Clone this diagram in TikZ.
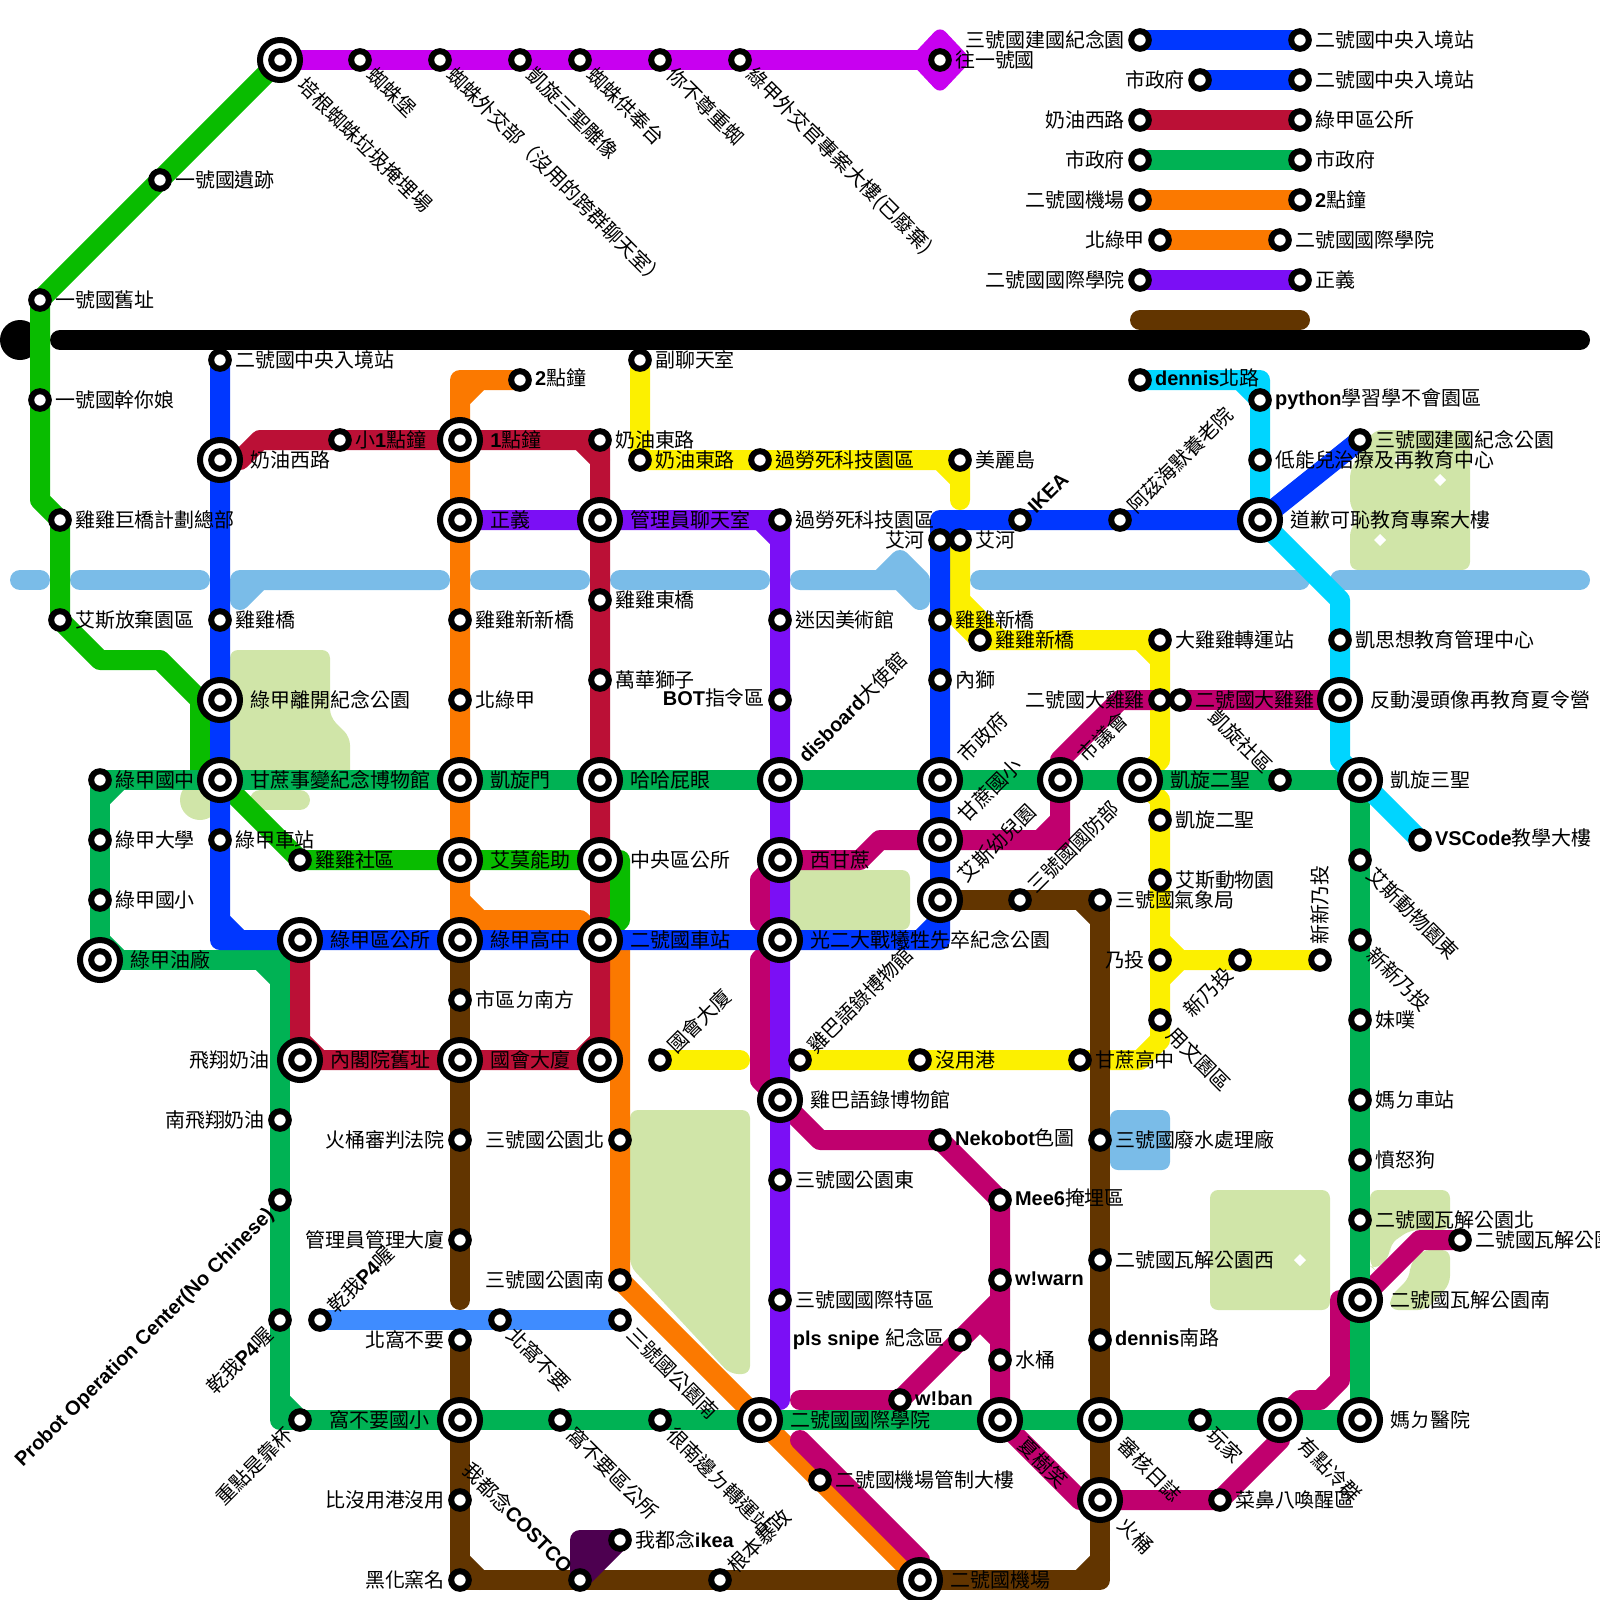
\documentclass[tikz,border=0pt]{standalone}
\usepackage{fontspec}
\setmainfont{Noto Sans CJK TC}
\newfontfamily\enfont{Liberation Sans}
\newcommand{\en}[1]{{\enfont\bfseries #1}}
\definecolor{LineViolet}{RGB}{200, 0, 240}
\definecolor{LineGreen}{RGB}{9, 188, 0}
\definecolor{LineEmerald}{RGB}{0, 178, 84}
\definecolor{LineBlue}{RGB}{0, 55, 255}
\definecolor{LineSky}{RGB}{63, 140, 255}
\definecolor{LineCyan}{RGB}{0, 213, 255}
\definecolor{LineRed}{RGB}{187, 16, 54}
\definecolor{LineOrange}{RGB}{251, 121, 0}
\definecolor{LineYellow}{RGB}{252, 240, 0}
\definecolor{LinePurple}{RGB}{123, 15, 245}
\definecolor{LineMagenta}{RGB}{192, 0, 110}
\definecolor{LineBrown}{RGB}{98, 53, 0}
\definecolor{LinePlum}{RGB}{77, 0, 80}
\definecolor{WaterBlue}{RGB}{122, 188, 232}
\definecolor{ParkGreen}{RGB}{208, 229, 168}
\usetikzlibrary{calc,positioning}
\pgfdeclarelayer{parks}
\pgfdeclarelayer{lines}
\pgfsetlayers{parks,lines,main}

\begin{document}
\begin{tikzpicture}[
    x=0.5cm, y=-0.5cm,
    stx/.style={font=\fontsize{14.2}{16}\selectfont, inner sep=0pt, text height=0.44cm, text depth=0.06cm},
    stn/.style={circle, draw=black, fill=white, line width=0.15cm, minimum size=0.44cm, inner sep=0pt, outer sep=0.15cm},
    hub/.style={circle, draw=black, fill=white, line width=0.15cm, minimum size=1cm, inner sep=0pt, outer sep=0.255cm,
        path picture={\draw[black, line width=0.15cm, fill=white] (path picture bounding box.center) circle (0.22cm);}},
    tr/.style={label={[stx]right:#1}},
    tre/.style={label={[stx, yshift=0.05cm]right:#1}},
    tl/.style={label={[stx]left:#1}},
    tle/.style={label={[stx, yshift=0.05cm]left:#1}},
    tdr/.style={label={[stx, rotate=-45, anchor=west]-45:#1}},
    tur/.style={label={[stx, rotate=45, anchor=west]45:#1}},
    tdl/.style={label={[stx, rotate=45, anchor=east]-135:#1}},
    tul/.style={label={[stx, rotate=-45, anchor=east]135:#1}},
    tup/.style={label={[stx, rotate=90, anchor=west]90:#1}},
    metro/.style={line width=0.5cm, line cap=round, line join=round},
    park/.style={fill=ParkGreen, rounded corners=0.2cm},
    wat/.style={metro, draw=WaterBlue},
    vio/.style={metro, draw=LineViolet},
    grn/.style={metro, draw=LineGreen},
    eme/.style={metro, draw=LineEmerald},
    blu/.style={metro, draw=LineBlue},
    sky/.style={metro, draw=LineSky},
    cya/.style={metro, draw=LineCyan},
    red/.style={metro, draw=LineRed},
    ora/.style={metro, draw=LineOrange},
    yel/.style={metro, draw=LineYellow},
    pur/.style={metro, draw=LinePurple},
    mag/.style={metro, draw=LineMagenta},
    bro/.style={metro, draw=LineBrown},
    plu/.style={metro, draw=LinePlum, fill=LinePlum}
]
    \useasboundingbox (0,0) rectangle (80,80);

    % violet
    \node[hub, tdr=培根蜘蛛垃圾掩埋場] (vi0) at (14,3) {};
    \node[stn, tdr=蜘蛛堡] (vi1) at (18,3) {};
    \node[stn, tdr=蜘蛛外交部（沒用的跨群聊天室）] (vi2) at (22,3) {};
    \node[stn, tdr=凱旋三聖雕像] (vi3) at (26,3) {};
    \node[stn, tdr=蜘蛛供奉台] (vi4) at (29,3) {};
    \node[stn, tdr=你不尊重蜘] (vi5) at (33,3) {};
    \node[stn, tdr=綠甲外交官專案大樓(已廢棄)] (vi6) at (37,3) {};
    \node[stn, tr=往一號國] (vi7) at (47,3) {};

    % legend
    \node[stn, tl=三號國建國紀念園] (le1a) at (57,2) {};
    \node[stn, tr=二號國中央入境站] (le1b) at (65,2) {};
    \node[stn, tl=市政府] (le2a) at (60,4) {};
    \node[stn, tr=二號國中央入境站] (le2b) at (65,4) {};
    \node[stn, tl=奶油西路] (le3a) at (57,6) {};
    \node[stn, tr=綠甲區公所] (le3b) at (65,6) {};
    \node[stn, tl=市政府] (le4a) at (57,8) {};
    \node[stn, tr=市政府] (le4b) at (65,8) {};
    \node[stn, tl=二號國機場] (le5a) at (57,10) {};
    \node[stn, tr={\en{2}點鐘}] (le5b) at (65,10) {};
    \node[stn, tl=北綠甲] (le6a) at (58,12) {};
    \node[stn, tr=二號國國際學院] (le6b) at (64,12) {};
    \node[stn, tl=二號國國際學院] (le7a) at (57,14) {};
    \node[stn, tr=正義] (le7b) at (65,14) {};
    \coordinate (le8a) at (57,16);
    \coordinate (le8b) at (65,16);

    % green
    \node[stn, tr=一號國遺跡] (gr1) at (8,9) {};
    \node[stn, tr=一號國舊址] (gr2) at (2,15) {};
    \node[stn, tr=一號國幹你娘] (gr3) at (2,20) {};
    \node[stn, tr=雞雞巨橋計劃總部] (gr4) at (3,26) {};
    \node[stn, tr=艾斯放棄園區] (gr5) at (3,31) {};
    \node[stn, tr=雞雞社區] (gr6) at (15,43) {};

    % blue
    \node[stn, tr=二號國中央入境站] (bl1) at (11,18) {};
    \node[hub, tr=奶油西路] (bl2) at (11,23) {};
    \node[stn, tr=雞雞橋] (bl3) at (11,31) {};
    \node[hub, tr=綠甲離開紀念公園] (bl4) at (11,35) {};
    \node[hub, tr=甘蔗事變紀念博物館] (bl5) at (11,39) {};
    \node[stn, tr=綠甲車站] (bl6) at (11,42) {};
    \node[hub, tr=綠甲區公所] (bl7) at (15,47) {};
    \node[hub, tr=綠甲高中] (bl8) at (23,47) {};
    \node[hub, tr=二號國車站] (bl9) at (30,47) {};
    \node[hub, tr=光二大戰犧牲先卒紀念公園] (bl10) at (39,47) {};
    \node[hub, tur=艾斯幼兒園] (bl11) at (47,45) {};
    \node[hub, tur=甘蔗國小] (bl12) at (47,42) {};
    \node[hub, tur=市政府] (bl13) at (47,39) {};
    \node[stn, tr=內獅] (bl14) at (47,34) {};
    \node[stn, tr=雞雞新橋] (bl15) at (47,31) {};
    \node[stn, tl=艾河] (bl16) at (47,27) {};
    \node[stn, tur={\en{IKEA}}] (bl17) at (51,26) {};
    \node[stn, tur=阿茲海默養老院] (bl18) at (56,26) {};
    \node[hub, tr=道歉可恥教育專案大樓] (bl19) at (63,26) {};
    \node[stn, tr=三號國建國紀念公園] (bl20) at (68,22) {};

    % red
    \node[stn, tr={小\en{1}點鐘}] (re1) at (17,22) {};
    \node[hub, tr={\en{1}點鐘}] (re2) at (23,22) {};
    \node[stn, tr=奶油東路] (re3) at (30,22) {};
    \node[hub, tr=管理員聊天室] (re4) at (30,26) {};
    \node[stn, tr=雞雞東橋] (re5) at (30,30) {};
    \node[stn, tr=萬華獅子] (re6) at (30,34) {};
    \node[hub, tr=哈哈屁眼] (re7) at (30,39) {};
    \node[hub, tr=中央區公所] (re8) at (30,43) {};
    \node[hub, tl=飛翔奶油, tr=內閣院舊址] (re9) at (15,53) {};
    \node[hub, tr=國會大廈] (re10) at (23,53) {};
    \node[hub] (re11) at (30,53) {};

    % orange
    \node[stn, tre={\en{2}點鐘}] (or1) at (26,19) {};
    \node[hub, tr=正義] (or2) at (23,26) {};
    \node[stn, tr=雞雞新新橋] (or3) at (23,31) {};
    \node[stn, tr=北綠甲] (or4) at (23,35) {};
    \node[hub, tr=凱旋門] (or5) at (23,39) {};
    \node[hub, tr=艾莫能助] (or6) at (23,43) {};
    \node[stn, tl=三號國公園北] (or7) at (31,57) {};
    \node[stn, tl=三號國公園南] (or8) at (31,64) {};
    \node[hub, tr=二號國國際學院] (or9) at (38,71) {};
    \node[stn, tr=二號國機場管制大樓] (or10) at (41,74) {};
    \node[hub, tr=二號國機場] (or11) at (46,79) {};

    % yellow
    \node[stn, tr=副聊天室] (ye1) at (32,18) {};
    \node[stn, tr=奶油東路] (ye2) at (32,23) {};
    \node[stn, tr=過勞死科技園區] (ye3) at (38,23) {};
    \node[stn, tr=美麗島] (ye4) at (48,23) {};
    \coordinate (ye4e) at (48,25);
    \node[stn, tr=艾河] (ye5) at (48,27) {};
    \node[stn, tr=雞雞新橋] (ye6) at (49,32) {};
    \node[stn, tr=大雞雞轉運站] (ye7) at (58,32) {};
    \node[stn, tl=二號國大雞雞] (ye8) at (58,35) {};
    \node[hub, tr=凱旋二聖] (ye9) at (57,39) {};
    \node[stn, tr=凱旋二聖] (ye10) at (58,41) {};
    \node[stn, tr=艾斯動物園] (ye11) at (58,44) {};
    \node[stn, tl=乃投] (ye12) at (58,48) {};
    \node[stn, tdl=新乃投] (ye13) at (62,48) {};
    \node[stn, tup=新新乃投] (ye14) at (66,48) {};
    \node[stn, tdr=用文園區] (ye15) at (58,51) {};
    \node[stn, tr=甘蔗高中] (ye16) at (54,53) {};
    \node[stn, tr=沒用港] (ye17) at (46,53) {};
    \node[stn, tur=雞巴語錄博物館] (ye18) at (40,53) {};
    \node[stn, tur=國會大廈] (ye19) at (33,53) {};
    \coordinate (ye19e) at (37,53);

    % cyan
    \node[stn, tre={\en{dennis}北路}] (cy1) at (57,19) {};
    \node[stn, tre={\en{python}學習學不會園區}] (cy2) at (63,20) {};
    \node[stn, tr=低能兒治療及再教育中心] (cy3) at (63,23) {};
    \node[stn, tr=凱思想教育管理中心] (cy4) at (67,32) {};
    \node[hub, tr=反動漫頭像再教育夏令營] (cy5) at (67,35) {};
    \node[hub, tr=凱旋三聖] (cy6) at (68,39) {};
    \node[stn, tre={\en{VSCode}教學大樓}] (cy7) at (71,42) {};

    % purple
    \node[stn, tr=過勞死科技園區] (pu1) at (39,26) {};
    \node[stn, tr=迷因美術館] (pu2) at (39,31) {};
    \node[stn, tle={\en{BOT}指令區}] (pu3) at (39,35) {};
    \node[hub, tur={\en{disboard}大使館}] (pu4) at (39,39) {};
    \node[hub, tr=西甘蔗] (pu5) at (39,43) {};
    \node[hub, tr=雞巴語錄博物館] (pu6) at (39,55) {};
    \node[stn, tr=三號國公園東] (pu7) at (39,59) {};
    \node[stn, tr=三號國國際特區] (pu8) at (39,65) {};
    \coordinate (pu8e) at (39,70);

    % emerald
    \node[stn, tr=綠甲國中] (em1) at (5,39) {};
    \node[stn, tr=綠甲大學] (em2) at (5,42) {};
    \node[stn, tr=綠甲國小] (em3) at (5,45) {};
    \node[hub, tr=綠甲油廠] (em4) at (5,48) {};
    \node[stn, tl=南飛翔奶油] (em5) at (14,56) {};
    \node[stn, tdl={\en{Probot Operation Center(No Chinese)}}] (em6) at (14,60) {};
    \node[stn, tdl={乾我\en{P4}喔}] (em7) at (14,66) {};
    \node[stn, tdl=重點是靠杯] (em8) at (15,71) {};
    \node[hub, tl=窩不要國小] (em9) at (23,71) {};
    \node[stn, tdr=窩不要區公所] (em10) at (28,71) {};
    \node[stn, tdr=很南邊ㄉ轉運站] (em11) at (33,71) {};
    \node[hub, tdr=夏樹笑] (em12) at (50,71) {};
    \node[hub, tdr=審核日誌] (em13) at (55,71) {};
    \node[stn, tdr=玩家] (em14) at (60,71) {};
    \node[hub, tdr=有點冷群] (em15) at (64,71) {};
    \node[hub, tr=媽ㄉ醫院] (em16) at (68,71) {};
    \node[hub, tr=二號國瓦解公園南] (em17) at (68,65) {};
    \node[stn, tr=二號國瓦解公園北] (em18) at (68,61) {};
    \node[stn, tr=憤怒狗] (em19) at (68,58) {};
    \node[stn, tr=媽ㄉ車站] (em20) at (68,55) {};
    \node[stn, tr=妹噗] (em21) at (68,51) {};
    \node[stn, tdr=新新乃投] (em22) at (68,47) {};
    \node[stn, tdr=艾斯動物園東] (em23) at (68,43) {};
    \node[stn, tul=凱旋社區] (em24) at (64,39) {};
    \node[hub, tur=市議會] (em25) at (53,39) {};

    % magenta
    \node[stn, tre={\en{Nekobot}色圖}] (ma1) at (47,57) {};
    \node[stn, tre={\en{Mee6}掩埋區}] (ma2) at (50,60) {};
    \node[stn, tre={\en{w!warn}}] (ma3) at (50,64) {};
    \node[stn, tr=水桶] (ma4) at (50,68) {};
    \node[stn, tle={\en{pls snipe }紀念區}] (ma5) at (48,67) {};
    \node[stn, tre={\en{w!ban}}] (ma6) at (45,70) {};
    \coordinate (ma6e) at (40,70);
    \coordinate (ma11e) at (40,72);
    \node[hub, tdr=火桶] (ma7) at (55,75) {};
    \node[stn, tr=菜鼻八喚醒區] (ma8) at (61,75) {};
    \node[stn, tr=二號國瓦解公園東] (ma9) at (73,62) {};
    \node[stn, tr=二號國大雞雞] (ma10) at (59,35) {};

    % brown
    \node[stn, tur=三號國國防部] (br1) at (51,45) {};
    \node[stn, tr=三號國氣象局] (br2) at (55,45) {};
    \node[stn, tr=市區ㄉ南方] (br3) at (23,50) {};
    \node[stn, tl=火桶審判法院] (br4) at (23,57) {};
    \node[stn, tl=管理員管理大廈] (br5) at (23,62) {};
    \coordinate (br5e) at (23,65);
    \node[stn, tl=北窩不要] (br6) at (23,67) {};
    \node[stn, tl=比沒用港沒用] (br7) at (23,75) {};
    \node[stn, tl=黑化窯名] (br8) at (23,79) {};
    \node[stn, tul={我都念\en{COSTCO}}] (br9) at (29,79) {};
    \node[stn, tur=根本暴政] (br10) at (36,79) {};
    \node[stn, tr=三號國廢水處理廠] (br11) at (55,57) {};
    \node[stn, tr=二號國瓦解公園西] (br12) at (55,63) {};
    \node[stn, tre={\en{dennis}南路}] (br13) at (55,67) {};

    % sky and plum
    \node[stn, tur={乾我\en{P4}喔}] (sk1) at (16,66) {};
    \node[stn, tdr=北窩不要] (sk2) at (25,66) {};
    \node[stn, tdr=三號國公園南] (sk3) at (31,66) {};
    \node[stn, tr={我都念\en{ikea}}] (pl1) at (31,77) {};

    \begin{pgfonlayer}{parks}
        \fill[park] (11.5,32.5) -- (16.5,32.5) -- (16.5,35.85) -- (17.5,36.85) -- (17.5,39) -- (11.5,39) -- cycle;
        \fill[ParkGreen] (10,40) circle (1);
        \draw[metro, ParkGreen] (13,40) -- (15,40);
        \fill[park] (39.5,43.5) rectangle (45.5,46.5);
        \fill[park] (31.5,55.5) -- (37.5,55.5) -- (37.5,68.7) -- (36.5,68.7) -- (31.5,63.3) -- cycle;
        \fill[park] (60.5,59.5) rectangle (66.5,65.5);
        \fill[park] (68.7,21.5) -- (73.5,21.5) -- (73.5,28.5) -- (67.5,28.5) -- (67.5,26.4) -- (68,25.9) -- (67.5,25.4) -- (67.5,23.5) -- cycle;
        \fill[park] (68.5,59.5) -- (72.5,59.5) -- (72.5,61.5) -- (70.5,61.5) -- (69.5,62.2) -- (69.5,62.8) -- (68.75,63.5) -- (68.5,63.3) -- cycle;
        \fill[park] (71.1,62.5) -- (72.5,62.5) -- (72.5,64.2) -- (71.3,65.5) -- (69.5,65.5) -- (69.5,64.85) -- (70.5,63.85) -- (70.5,63.2) -- cycle;
        \foreach \px/\py in {72/24, 69/27, 70/23, 65/63}
            \fill[white] (\px-0.3,\py) -- (\px,\py-0.3) -- (\px+0.3,\py) -- (\px,\py+0.3) -- cycle;
        \fill[WaterBlue, rounded corners=0.2cm] (55.5,55.5) rectangle (58.5,58.5);
        \draw[wat] (1,29) -- (2,29);
        \draw[wat] (4,29) -- (10,29);
        \draw[wat] (12,30) -- (12,29) -- (22,29) (13,29) -- (12,30);
        \draw[wat] (24,29) -- (29,29);
        \draw[wat] (31,29) -- (38,29);
        \draw[wat] (40,29) -- (44,29) -- (45,28) -- (46,29) -- (46,30) -- (45,29) -- (44,29);
        \draw[wat] (49,29) -- (65,29);
        \draw[wat] (67,29) -- (79,29);
    \end{pgfonlayer}

    \begin{pgfonlayer}{lines}
        \node[circle, fill=black, minimum size=1cm, inner sep=0pt] (blackdot) at (1,17) {};
        \coordinate (blacka) at (3,17);
        \coordinate (blackb) at (79,17);
        \draw[metro, black] (blacka) -- (blackb);
        \draw[yel] (ye1.center) -- (ye2.center) -- (ye4.center) -- (ye4e) (47,23) -- (48,24);
        \draw[yel] (ye5.center) -- (48,31) -- (ye6.center) -- (ye7.center) -- (58,38) -- (ye9.center) -- (58,40) -- (ye15.center) -- (58,52) -- (57,53) -- (ye18.center);
        \draw[yel] (48,30) -- (50,32) (57,32) -- (58,33);
        \draw[yel] (58,47) -- (59,48) -- (ye14.center) (58,49) -- (59,48);
        \draw[yel] (ye19.center) -- (ye19e);
        \draw[ora] (or1.center) -- (23,19) -- (bl8.center) (24,19) -- (23,20);
        \draw[ora] (23,45) -- (24,46) -- (29,46) -- (bl9.center) -- (31,47) -- (or8.center) -- (or11.center);
        \draw[ora] (le5a.center) -- (le5b.center);
        \draw[ora] (le6a.center) -- (le6b.center);
        \draw[mag] (pu5.center) -- (38,44) -- (38,46) -- (bl10.center) -- (38,48) -- (38,54) -- (pu6.center) -- (41,57) -- (ma1.center) -- (ma2.center) -- (em12.center) -- (54,75) -- (ma8.center) -- (64,72) -- (em15.center) -- (65,70) -- (66,70) -- (67,69) -- (67,65) -- (em17.center) -- (71,62) -- (ma9.center);
        \draw[mag] (pu5.center) -- (43,43) -- (44,42) -- (bl12.center) -- (53,42) -- (em25.center) -- (53,38) -- (56,35) -- (ye8.center) (52,42) -- (53,41);
        \draw[mag] (ma10.center) -- (cy5.center);
        \draw[mag] (50,65) -- (ma5.center) -- (ma6.center) -- (ma6e) (49,66) -- (50,67);
        \draw[mag] (ma11e) -- (46,78) -- (or11.center);
        \draw[red] (bl2.center) -- (12,23) -- (13,22) -- (re3.center) -- (re11.center) -- (re9.center) -- (bl7.center);
        \draw[red] (29,22) -- (30,23) (29,53) -- (30,52) (15,52) -- (16,53);
        \draw[red] (le3a.center) -- (le3b.center);
        \draw[grn] (vi0.center) -- (gr2.center) -- (2,25) -- (gr4.center) -- (gr5.center) -- (5,33) -- (8,33) -- (11,36);
        \draw[grn] (10,35) -- (10,39) -- (bl5.center) -- (gr6.center) -- (re8.center) -- (31,43) -- (31,46) -- (bl9.center);
        \draw[eme] (em1.center) -- (cy6.center) -- (em16.center) -- (14,71) -- (14,48) -- (em4.center) -- (em1.center);
        \draw[eme] (5,40) -- (6,39) (5,47) -- (6,48) (13,48) -- (14,49) (14,70) -- (15,71);
        \draw[eme] (le4a.center) -- (le4b.center);
        \draw[blu] (bl1.center) -- (11,47) -- (47,47) -- (47,26) -- (bl19.center) -- (bl20.center);
        \draw[blu] (11,46) -- (12,47) (46,47) -- (47,46) (47,27) -- (48,26);
        \draw[blu] (le1a.center) -- (le1b.center);
        \draw[blu] (le2a.center) -- (le2b.center);
        \draw[pur] (or2.center) -- (pu1.center) -- (pu8e) (38,26) -- (39,27);
        \draw[pur] (le7a.center) -- (le7b.center);
        \draw[cya] (cy1.center) -- (63,19) -- (bl19.center) -- (67,30) -- (cy5.center) -- (67,38) -- (cy6.center) -- (cy7.center) (62,19) -- (63,20);
        \draw[bro] (bl11.center) -- (br2.center) -- (55,79) -- (br8.center) -- (br6.center);
        \draw[bro] (bl8.center) -- (br5e);
        \draw[bro] (54,45) -- (55,46) (55,78) -- (54,79) (23,78) -- (24,79);
        \draw[bro] (le8a) -- (le8b);
        \draw[sky] (sk1.center) -- (sk3.center);
        \draw[plu] (pl1.center) -- (29,77) -- (br9.center) -- cycle;
        \draw[vio] (vi0.center) -- (vi7.center);
        \fill[LineViolet, rounded corners=0.2cm] (45.4,3) -- (47,1.3) -- (48.6,3) -- (47,4.7) -- cycle;
    \end{pgfonlayer}
\end{tikzpicture}
\end{document}
